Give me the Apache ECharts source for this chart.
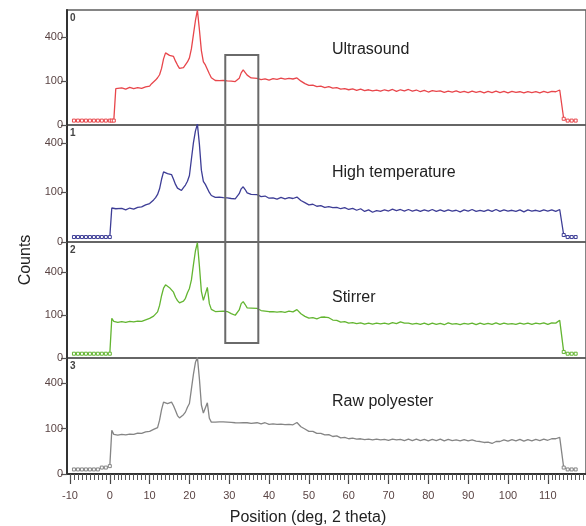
<!DOCTYPE html>
<html><head><meta charset="utf-8">
<script src="https://cdn.jsdelivr.net/npm/echarts@6/dist/echarts.min.js"></script>
<style>html,body{margin:0;padding:0;background:#fff}#c{width:586px;height:526px}</style>
</head><body><div id="c"></div><script>
// ---- data ----
const positions = [-9,-8,-7,-6,-5,-4,-3,-2,-1,0, 0.5,1,1.5,2, 3,4,5,6,7,8,9,
 10,10.5,11,11.5,12,12.5,13,13.5,14,14.5,
 15,15.5,16,16.5,17,17.5,18,18.5,19,19.5,
 20,20.5,21,21.5,22,22.5,23,23.5,24,24.5,
 25,25.5,26,26.5,27,27.5,28,28.5,29,29.5,
 30,30.5,31,31.5,32,32.5,33,33.5,34,34.5,
 35,35.5,36,
 37,38,39,40,41,42,43,44,45,46,
 47,48,49,50,51,52,53,54,55,56,
 57,58,59,60,61,62,63,64,65,66,
 67,68,69,70,71,72,73,74,75,76,
 77,78,79,80,81,82,83,84,85,86,
 87,88,89,90,91,92,93,94,95,96,
 97,98,99,100,101,102,103,104,105,106,
 107,108,109,110,111,112,113,
 113.5,114,115,116,117];

const ultrasound = [1,1,1,1,1,1,1,1,1,1, 1,1,68,64, 71,66,73,68,72,69,75,
 78,88,95,104,115,130,165,225,268,262,
 250,255,242,210,185,165,160,170,182,205,
 232,300,420,560,680,470,285,205,186,188,
 135,115,108,102,108,101,107,102,106,100,
 105,99,100,97,98,112,140,156,145,128,
 120,114,112,
 112,106,110,104,111,107,113,108,112,109,
 114,99,88,81,82,76,78,72,76,70,
 72,66,68,64,67,62,66,61,64,60,
 63,59,64,60,65,58,64,60,65,59,
 63,57,62,56,61,58,60,55,59,56,
 60,55,58,54,59,55,58,53,58,54,
 59,54,58,53,58,55,57,53,57,54,
 57,53,58,54,58,57,63,
 61,2,1,1,1];

const highTemperature = [1,1,1,1,1,1,1,1,1,1, 47,44,45,43, 46,42,47,44,49,50,56,
 60,66,72,80,92,115,160,200,198,190,
 193,185,160,135,118,110,108,120,132,150,
 180,280,400,500,565,390,210,150,135,138,
 100,88,86,81,86,82,85,80,84,79,
 80,77,81,76,82,95,115,124,112,98,
 95,92,90,
 91,84,86,78,79,75,81,76,80,77,
 82,70,63,56,58,52,54,49,51,48,
 49,45,48,43,46,41,45,38,42,36,
 40,38,42,39,44,40,43,39,43,39,
 42,38,42,39,43,38,42,38,42,39,
 41,37,42,39,43,38,41,38,42,38,
 43,38,42,39,41,38,42,37,42,39,
 41,38,42,39,42,38,43,
 41,2,1,1,1];

const stirrer = [1,1,1,1,1,1,1,1,1,1, 85,73,74,69, 72,69,73,71,74,73,79,
 85,90,95,100,115,150,210,265,290,280,
 268,262,235,200,178,165,162,175,193,230,
 262,330,470,620,720,460,240,180,175,270,
 160,128,123,117,124,118,120,119,118,117,
 113,107,105,99,102,125,160,172,155,136,
 132,135,133,
 133,122,119,116,117,114,116,113,119,115,
 127,106,94,86,88,83,90,91,88,78,
 77,70,72,66,68,64,67,62,66,62,
 66,63,66,62,68,64,71,66,66,62,
 65,61,66,60,66,61,65,60,67,62,
 64,60,65,62,66,60,66,61,65,61,
 67,61,66,62,64,61,66,62,66,61,
 66,63,67,61,67,66,77,
 75,2,1,1,1];

const rawPolyester = [1,1,1,1,1,1,1,2,2,3, 92,76,75,73, 76,74,77,76,81,80,86,
 88,92,96,100,104,140,200,250,258,240,
 236,250,225,195,165,152,160,170,185,215,
 240,350,480,600,660,440,230,180,172,245,
 150,130,135,130,136,131,133,131,134,130,
 132,129,133,127,131,126,132,127,129,127,
 130,124,129,
 127,121,127,119,121,119,120,118,119,117,
 128,108,98,88,88,80,80,74,75,68,
 70,63,65,60,62,59,60,57,59,56,
 59,56,58,55,59,56,58,54,59,54,
 59,54,58,53,58,54,59,53,58,54,
 56,53,57,53,56,52,51,48,49,45,
 51,51,56,52,57,53,58,52,57,53,
 58,54,59,55,60,60,65,
 63,2,1,1,1];

const panelNames = ['Ultrasound','High temperature','Stirrer','Raw polyester'];
const panelIds = ['0','1','2','3'];
const yTicks = [0,100,400];
const xTicks = [-10,0,10,20,30,40,50,60,70,80,90,100,110];
const boxDeg = [29, 37.3];      // x range of the highlight box
const boxCounts = [253, 12];    // top (panel 0), bottom (panel 2)

// ---- layout / style ----
const seriesData = [ultrasound, highTemperature, stirrer, rawPolyester];
const colors = ['#e8464b','#3d3d96','#63b531','#858585'];
const gridTops = [10,125,242,358];
const gridHeights = [115,117,116,116];
const yMaxSqrt = [26.1,23.6,27,25.5];
const xMin = -10.75, xMax = 119.6;
const FONT = '"Liberation Sans", Arial, sans-serif';
const labelColor = '#5a4444';

const chart = echarts.init(document.getElementById('c'), null, {renderer:'canvas'});

const grids = [], xAxes = [], yAxes = [], series = [];
for (let i = 0; i < 4; i++) {
  grids.push({left:67, width:524, top:gridTops[i], height:gridHeights[i],
    show:true, borderColor:'#5e5e5e', borderWidth:1.5, backgroundColor:'transparent'});
  const last = i === 3;
  xAxes.push({type:'value', gridIndex:i, min:xMin, max:xMax, show:last,
    axisLine:{show:true, onZero:false, lineStyle:{color:'#333', width:2}},
    axisTick:{show:true, length:10, customValues:xTicks, lineStyle:{color:'#444', width:1.2}},
    axisLabel:{customValues:xTicks, fontSize:11, color:labelColor, margin:16, fontFamily:FONT},
    splitLine:{show:false}
  });
  yAxes.push({type:'value', gridIndex:i, min:0, max:yMaxSqrt[i],
    axisLine:{show:true, onZero:false, lineStyle:{color:'#333', width:2}},
    axisTick:{show:true, length:6, customValues:yTicks.map(Math.sqrt), lineStyle:{color:'#555', width:1.2}},
    axisLabel:{customValues:yTicks.map(Math.sqrt), formatter:v => String(Math.round(v*v)),
      fontSize:11, color:labelColor, margin:4, fontFamily:FONT},
    splitLine:{show:false}
  });
  series.push({type:'line', xAxisIndex:i, yAxisIndex:i, clip:false,
    data: positions.map((p,k) => [p, Math.sqrt(seriesData[i][k])]),
    lineStyle:{color:colors[i], width:1.3},
    symbol: v => (v[1] < 2.5 ? 'rect' : 'none'),
    symbolSize: 3,
    itemStyle:{color:'#fff', borderColor:colors[i], borderWidth:1},
    emphasis:{disabled:true}, animation:false, silent:true
  });
}
// minor ticks axis on bottom panel
const minorVals = [];
for (let v = -10; v <= 119; v++) minorVals.push(v);
xAxes.push({type:'value', gridIndex:3, min:xMin, max:xMax, position:'bottom',
  axisLine:{show:false}, axisLabel:{show:false}, splitLine:{show:false},
  axisTick:{show:true, length:6, customValues:minorVals, lineStyle:{color:'#555', width:1}}
});

chart.setOption({animation:false, grid:grids, xAxis:xAxes, yAxis:yAxes, series:series});

const g = [];
for (let i = 0; i < 4; i++) {
  g.push({type:'text', x:332, y:gridTops[i] + [40,48,56,44][i],
    style:{text:panelNames[i], fontSize:16, fontFamily:FONT, fill:'#222',
      textAlign:'left', textVerticalAlign:'middle'}});
  g.push({type:'text', x:70, y:gridTops[i] + 8,
    style:{text:panelIds[i], fontSize:10, fontWeight:'bold', fontFamily:FONT, fill:'#444',
      textAlign:'left', textVerticalAlign:'middle'}});
}
g.push({type:'text', x:308, y:518, style:{text:'Position (deg, 2 theta)', fontSize:16,
  fontFamily:FONT, fill:'#222', textAlign:'center', textVerticalAlign:'middle'}});
g.push({type:'text', x:26, y:260, rotation:Math.PI/2, style:{text:'Counts', fontSize:16,
  fontFamily:FONT, fill:'#222', textAlign:'center', textVerticalAlign:'middle'}});
const p1 = chart.convertToPixel({gridIndex:0}, [boxDeg[0], Math.sqrt(boxCounts[0])]);
const p2 = chart.convertToPixel({gridIndex:2}, [boxDeg[1], Math.sqrt(boxCounts[1])]);
g.push({type:'rect', shape:{x:p1[0], y:p1[1], width:p2[0]-p1[0], height:p2[1]-p1[1]},
  style:{fill:'none', stroke:'#6a6a6a', lineWidth:2}, z:10});
chart.setOption({graphic:g});
</script></body></html>
